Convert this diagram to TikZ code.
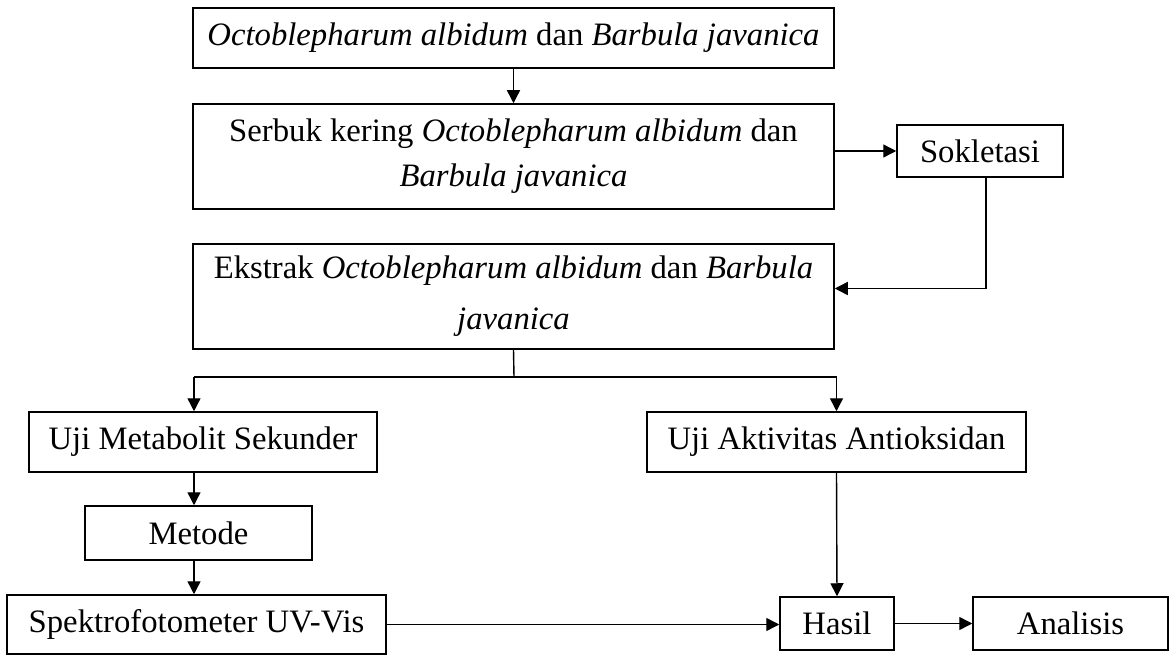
\documentclass[tikz,border=0pt]{standalone}
\usepackage{fontspec}
\setmainfont{Liberation Serif}
\usetikzlibrary{arrows.meta,calc}
\begin{document}
\begin{tikzpicture}[x=1pt,y=-1pt,
  box/.style={draw, line width=1.5pt, inner sep=0pt, align=center, font=\fontsize{32.7}{41}\selectfont},
  arr/.style={line width=1.4pt, -{Triangle[length=13pt,width=13pt]}},
  ln/.style={line width=1.4pt}]
\useasboundingbox (0,0) rectangle (1176,655);
\node[box, minimum width=641pt, minimum height=60pt] (b1) at (513.5,38)
  {\textit{Octoblepharum albidum} dan \textit{Barbula javanica}};
\node[box, minimum width=641pt, minimum height=105pt, font=\fontsize{32.7}{45}\selectfont] (b2) at (513.5,156.5)
  {Serbuk kering \textit{Octoblepharum albidum} dan\\\textit{Barbula javanica}};
\node[box, minimum width=166pt, minimum height=52pt] (sok) at (980,151) {Sokletasi};
\node[box, minimum width=641pt, minimum height=105pt, font=\fontsize{32.7}{51}\selectfont] (b3) at (513.5,296.5)
  {Ekstrak \textit{Octoblepharum albidum} dan \textit{Barbula}\\\textit{javanica}};
\node[box, minimum width=348pt, minimum height=60pt] (metab) at (203,442) {Uji Metabolit Sekunder};
\node[box, minimum width=379pt, minimum height=60pt] (aktiv) at (836.5,442) {Uji Aktivitas Antioksidan};
\node[box, minimum width=227pt, minimum height=54pt] (metode) at (198.5,533) {Metode};
\node[box, minimum width=379pt, minimum height=59pt] (spek) at (196.5,624.5) {Spektrofotometer UV-Vis};
\node[box, minimum width=114pt, minimum height=53pt] (hasil) at (837,623.5) {Hasil};
\node[box, minimum width=195pt, minimum height=53pt] (anal) at (1070.5,623.5) {Analisis};
\coordinate (sp) at (514,377);
\coordinate (sl) at (194,377);
\coordinate (sr) at (836.5,377);
\coordinate (sd) at ($(sok.south)+(6,0)$);
\coordinate (b3in) at ($(b3.east)+(0,-8)$);
\draw[arr] (b1.south) -- (b2.north);
\draw[arr] (sok.west -| b2.east) -- (sok.west);
\draw[arr] (sd) |- (b3in);
\draw[ln] (b3.south) -- (sp);
\draw[ln] (sl) -- (sr);
\draw[arr] (sl) -- (sl |- metab.north);
\draw[arr] (sr) -- (sr |- aktiv.north);
\draw[arr] (metab.south -| sl) -- (metode.north -| sl);
\draw[arr] (metode.south -| sl) -- (spek.north -| sl);
\draw[arr] (spek.east) -- (spek.east -| hasil.west);
\draw[arr] (aktiv.south) -- (hasil.north);
\draw[arr] (hasil.east) -- (anal.west);
\end{tikzpicture}
\end{document}
